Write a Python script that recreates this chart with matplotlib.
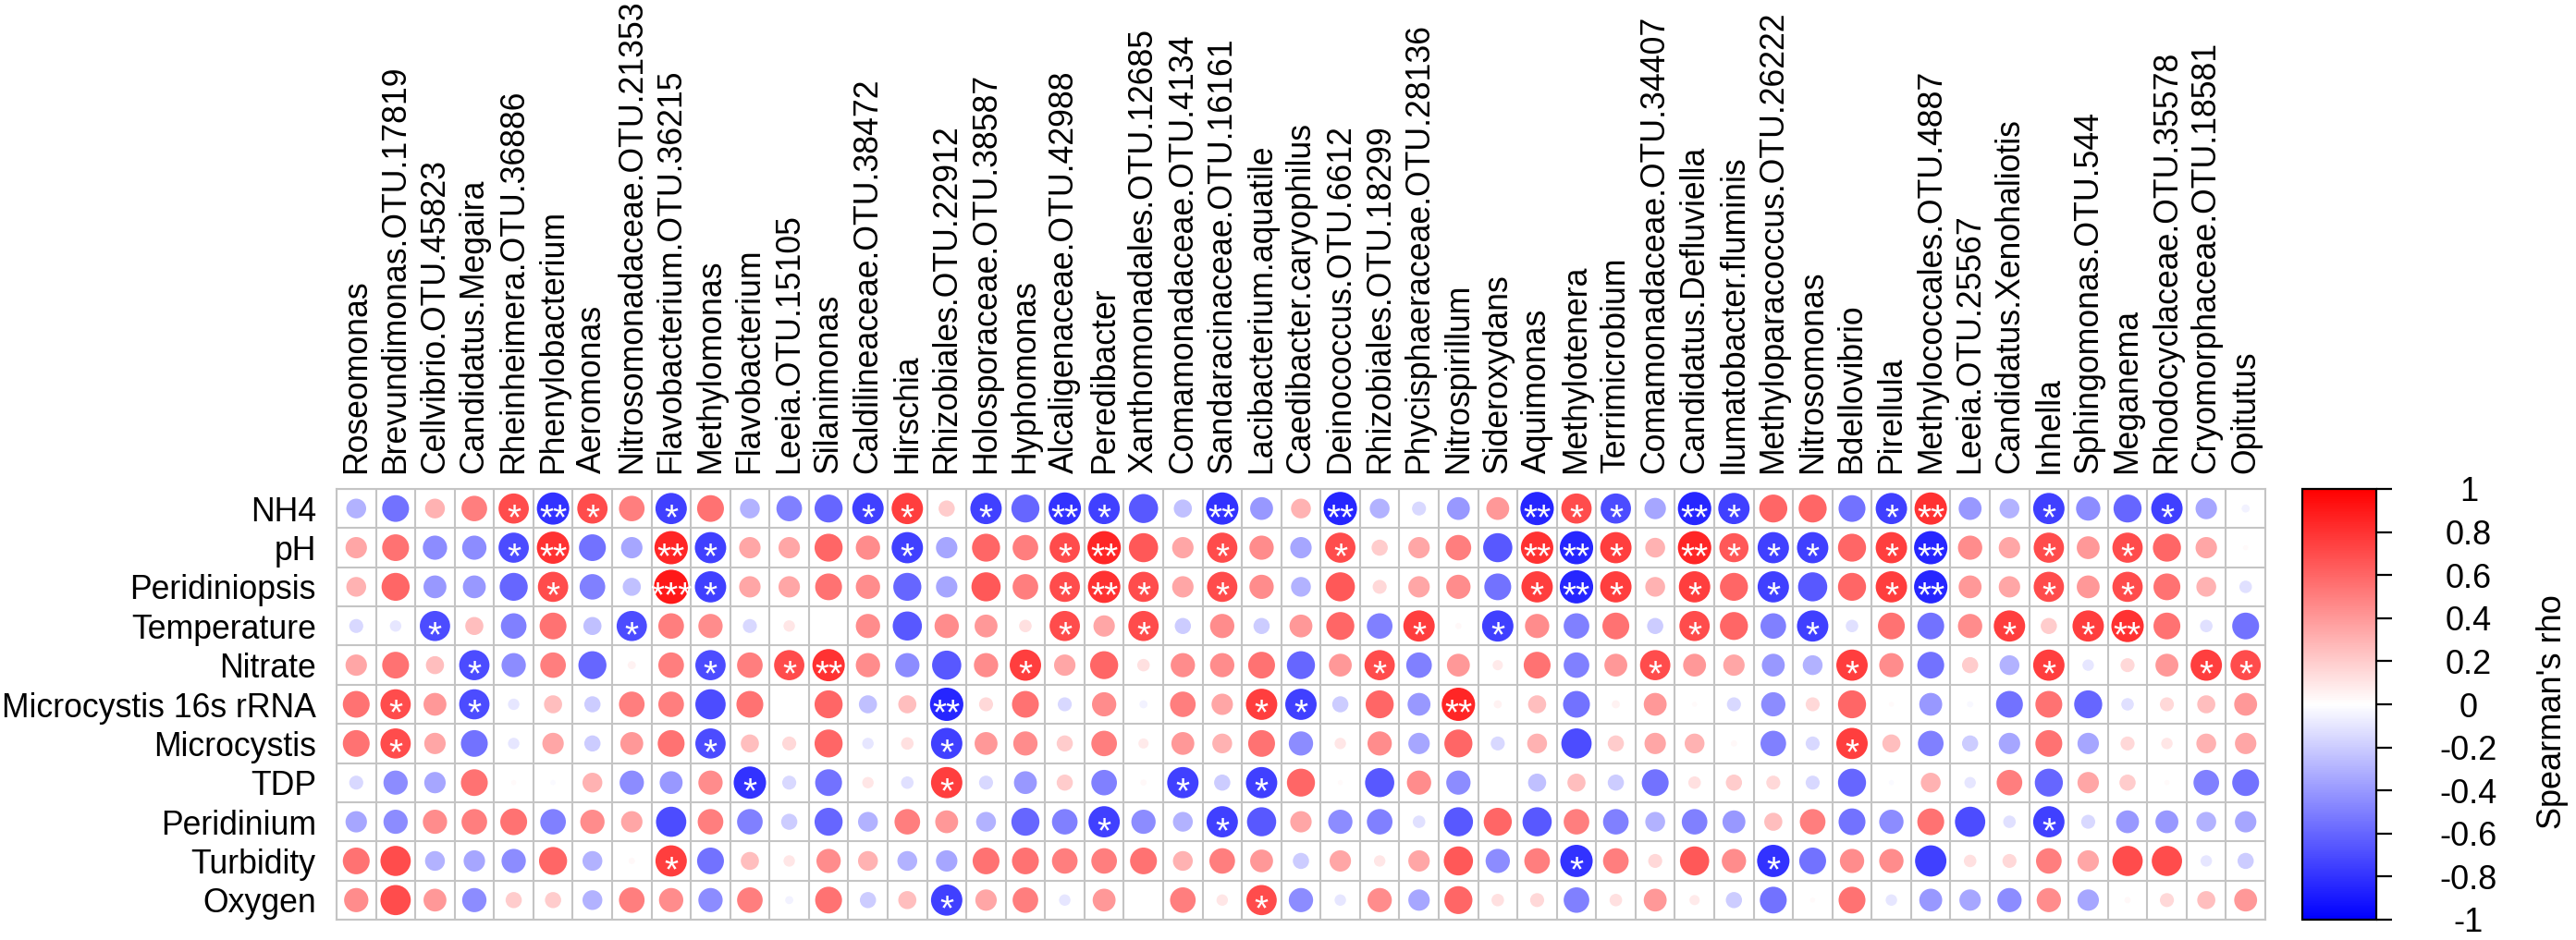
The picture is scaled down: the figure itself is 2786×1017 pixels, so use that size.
import numpy as np
import matplotlib
matplotlib.use("Agg")
import matplotlib.pyplot as plt
from matplotlib.collections import EllipseCollection
from matplotlib.colors import LinearSegmentedColormap, Normalize
from matplotlib.transforms import offset_copy

plt.rcParams['font.family'] = ['Liberation Sans', 'DejaVu Sans']

# taxa on the x axis
taxa = [
    "Roseomonas", "Brevundimonas.OTU.17819", "Cellvibrio.OTU.45823", "Candidatus.Megaira",
    "Rheinheimera.OTU.36886", "Phenylobacterium", "Aeromonas", "Nitrosomonadaceae.OTU.21353",
    "Flavobacterium.OTU.36215", "Methylomonas", "Flavobacterium", "Leeia.OTU.15105",
    "Silanimonas", "Caldilineaceae.OTU.38472", "Hirschia", "Rhizobiales.OTU.22912",
    "Holosporaceae.OTU.38587", "Hyphomonas", "Alcaligenaceae.OTU.42988", "Peredibacter",
    "Xanthomonadales.OTU.12685", "Comamonadaceae.OTU.4134", "Sandaracinaceae.OTU.16161",
    "Lacibacterium.aquatile", "Caedibacter.caryophilus", "Deinococcus.OTU.6612",
    "Rhizobiales.OTU.18299", "Phycisphaeraceae.OTU.28136", "Nitrospirillum", "Sideroxydans",
    "Aquimonas", "Methylotenera", "Terrimicrobium", "Comamonadaceae.OTU.34407",
    "Candidatus.Defluviella", "Ilumatobacter.fluminis", "Methyloparacoccus.OTU.26222",
    "Nitrosomonas", "Bdellovibrio", "Pirellula", "Methylococcales.OTU.4887", "Leeia.OTU.25567",
    "Candidatus.Xenohaliotis", "Inhella", "Sphingomonas.OTU.544", "Meganema",
    "Rhodocyclaceae.OTU.35578", "Cryomorphaceae.OTU.18581", "Opitutus",
]

# environmental variables on the y axis
variables = ["NH4", "pH", "Peridiniopsis", "Temperature", "Nitrate", "Microcystis 16s rRNA",
             "Microcystis", "TDP", "Peridinium", "Turbidity", "Oxygen"]

# Spearman's rho, one list per variable (estimated from the figure)
rho_nh4 = [-0.3, -0.55, 0.3, 0.5, 0.7, -0.8, 0.7, 0.5, -0.75, 0.55,
           -0.3, -0.5, -0.6, -0.75, 0.75, 0.2, -0.75, -0.6, -0.8, -0.75,
           -0.65, -0.25, -0.8, -0.4, 0.3, -0.85, -0.3, -0.15, -0.4, 0.4,
           -0.85, 0.7, -0.7, -0.35, -0.85, -0.75, 0.6, 0.6, -0.55, -0.75,
           0.8, -0.4, -0.3, -0.75, -0.45, -0.6, -0.75, -0.35, -0.05]
rho_ph = [0.35, 0.55, -0.45, -0.45, -0.7, 0.8, -0.55, -0.35, 0.85, -0.75,
          0.35, 0.35, 0.6, 0.45, -0.75, -0.35, 0.6, 0.5, 0.7, 0.85,
          0.65, 0.35, 0.7, 0.45, -0.35, 0.7, 0.2, 0.35, 0.5, -0.65,
          0.8, -0.85, 0.75, 0.3, 0.85, 0.65, -0.75, -0.75, 0.6, 0.75,
          -0.85, 0.45, 0.35, 0.7, 0.4, 0.7, 0.6, 0.35, 0.02]
rho_peridiniopsis = [0.3, 0.6, -0.4, -0.4, -0.6, 0.7, -0.5, -0.25, 0.9, -0.75,
                     0.35, 0.35, 0.55, 0.45, -0.6, -0.35, 0.65, 0.5, 0.7, 0.8,
                     0.7, 0.35, 0.7, 0.45, -0.3, 0.65, 0.15, 0.35, 0.45, -0.55,
                     0.75, -0.85, 0.75, 0.3, 0.75, 0.6, -0.75, -0.65, 0.6, 0.75,
                     -0.85, 0.4, 0.35, 0.7, 0.4, 0.7, 0.55, 0.3, -0.12]
rho_temperature = [-0.15, -0.1, -0.7, 0.25, -0.5, 0.55, -0.25, -0.7, 0.5, 0.45,
                   -0.15, 0.1, 0.0, 0.45, -0.65, 0.45, 0.4, 0.12, 0.7, 0.35,
                   0.7, -0.2, 0.45, -0.2, 0.4, 0.6, -0.5, 0.75, 0.03, -0.75,
                   0.45, -0.5, 0.55, -0.2, 0.7, 0.6, -0.5, -0.75, -0.12, 0.55,
                   -0.55, 0.45, 0.75, 0.2, 0.75, 0.8, 0.55, -0.12, -0.55]
rho_nitrate = [0.35, 0.55, 0.25, -0.7, -0.45, 0.5, -0.6, 0.05, 0.5, -0.7,
               0.5, 0.7, 0.8, 0.45, -0.45, -0.65, 0.45, 0.75, 0.35, 0.6,
               0.12, 0.45, 0.45, 0.55, -0.6, 0.4, 0.7, -0.5, 0.4, 0.08,
               0.55, -0.5, 0.4, 0.7, 0.4, 0.35, -0.4, -0.3, 0.75, 0.45,
               -0.55, 0.2, -0.3, 0.75, -0.1, 0.15, 0.4, 0.75, 0.7]
rho_mc16s = [0.55, 0.7, 0.4, -0.7, -0.1, 0.25, -0.2, 0.5, 0.5, -0.7,
             0.55, 0.0, 0.6, -0.25, 0.25, -0.85, 0.15, 0.55, -0.15, 0.45,
             -0.05, 0.5, 0.35, 0.75, -0.75, -0.2, 0.6, -0.4, 0.85, 0.05,
             0.25, -0.55, 0.05, 0.4, 0.02, -0.15, -0.45, 0.15, 0.6, 0.02,
             -0.4, -0.03, -0.55, 0.55, -0.6, -0.12, 0.15, 0.25, 0.4]
rho_microcystis = [0.55, 0.7, 0.35, -0.55, -0.1, 0.35, -0.2, 0.4, 0.55, -0.7,
                   0.25, 0.15, 0.6, -0.1, 0.12, -0.75, 0.4, 0.45, 0.2, 0.5,
                   0.08, 0.4, 0.3, 0.55, -0.45, 0.1, 0.45, -0.35, 0.6, -0.15,
                   0.3, -0.7, 0.2, 0.35, 0.3, 0.03, -0.5, -0.15, 0.75, 0.25,
                   -0.5, -0.2, -0.35, 0.55, -0.35, 0.15, 0.1, 0.3, 0.35]
rho_tdp = [-0.15, -0.45, -0.35, 0.55, 0.02, -0.02, 0.3, -0.45, -0.4, 0.45,
           -0.8, -0.15, -0.55, 0.1, -0.12, 0.75, -0.15, -0.4, 0.2, -0.5,
           0.03, -0.75, -0.2, -0.75, 0.6, 0.02, -0.65, 0.45, -0.45, 0.0,
           -0.25, 0.25, -0.2, -0.55, 0.12, 0.2, 0.15, -0.15, -0.6, -0.02,
           0.3, -0.1, 0.5, -0.6, 0.35, 0.2, 0.02, -0.5, -0.55]
rho_peridinium = [-0.35, -0.45, 0.45, 0.5, 0.55, -0.5, 0.45, 0.35, -0.7, 0.5,
                  -0.5, -0.2, -0.6, -0.3, 0.5, 0.4, -0.3, -0.6, -0.5, -0.75,
                  -0.45, -0.3, -0.75, -0.65, 0.35, -0.45, -0.5, -0.12, -0.65, 0.6,
                  -0.65, 0.5, -0.5, -0.3, -0.5, -0.4, 0.25, 0.5, -0.55, -0.45,
                  0.55, -0.7, -0.12, -0.75, -0.15, -0.4, -0.4, -0.3, -0.35]
rho_turbidity = [0.55, 0.7, -0.3, -0.35, -0.45, 0.6, -0.3, 0.03, 0.75, -0.55,
                 0.25, 0.1, 0.45, 0.3, -0.3, -0.35, 0.55, 0.55, 0.5, 0.5,
                 0.55, 0.3, 0.5, 0.4, -0.2, 0.35, 0.1, 0.35, 0.65, -0.45,
                 0.5, -0.8, 0.5, 0.15, 0.65, 0.45, -0.8, -0.55, 0.45, 0.45,
                 -0.75, 0.12, 0.15, 0.5, 0.35, 0.7, 0.7, -0.1, -0.2]
rho_oxygen = [0.45, 0.7, 0.4, -0.45, 0.2, 0.2, -0.3, 0.5, 0.45, -0.45,
              0.5, -0.05, 0.55, -0.2, 0.25, -0.75, 0.35, 0.5, -0.1, 0.4,
              0.0, 0.5, 0.1, 0.7, -0.45, -0.1, 0.45, -0.35, 0.6, 0.12,
              0.15, -0.5, 0.12, 0.4, 0.08, -0.2, -0.55, 0.02, 0.55, -0.1,
              -0.4, -0.35, -0.45, 0.45, -0.35, 0.03, 0.15, 0.25, 0.4]

# significance stars per variable: {taxon index: number of stars}
stars_nh4 = {4: 1, 5: 2, 6: 1, 8: 1, 13: 1, 14: 1, 16: 1, 18: 2, 19: 1, 22: 2, 25: 2,
             30: 2, 31: 1, 32: 1, 34: 2, 35: 1, 39: 1, 40: 2, 43: 1, 46: 1}
stars_ph = {4: 1, 5: 2, 8: 2, 9: 1, 14: 1, 18: 1, 19: 2, 22: 1, 25: 1, 30: 2, 31: 2,
            32: 1, 34: 2, 35: 1, 36: 1, 37: 1, 39: 1, 40: 2, 43: 1, 45: 1}
stars_peridiniopsis = {5: 1, 8: 3, 9: 1, 18: 1, 19: 2, 20: 1, 22: 1, 30: 1, 31: 2, 32: 1,
                       34: 1, 36: 1, 39: 1, 40: 2, 43: 1, 45: 1}
stars_temperature = {2: 1, 7: 1, 18: 1, 20: 1, 27: 1, 29: 1, 34: 1, 37: 1, 42: 1, 44: 1, 45: 2}
stars_nitrate = {3: 1, 9: 1, 11: 1, 12: 2, 17: 1, 26: 1, 33: 1, 38: 1, 43: 1, 47: 1, 48: 1}
stars_mc16s = {1: 1, 3: 1, 15: 2, 23: 1, 24: 1, 28: 2}
stars_microcystis = {1: 1, 9: 1, 15: 1, 38: 1}
stars_tdp = {10: 1, 15: 1, 21: 1, 23: 1}
stars_peridinium = {19: 1, 22: 1, 43: 1}
stars_turbidity = {8: 1, 31: 1, 36: 1}
stars_oxygen = {15: 1, 23: 1}

cbar_ticks = [1, 0.8, 0.6, 0.4, 0.2, 0, -0.2, -0.4, -0.6, -0.8, -1]
cbar_labels = ["1", "0.8", "0.6", "0.4", "0.2", "0", "-0.2", "-0.4", "-0.6", "-0.8", "-1"]

rho = np.array([rho_nh4, rho_ph, rho_peridiniopsis, rho_temperature, rho_nitrate,
                rho_mc16s, rho_microcystis, rho_tdp, rho_peridinium, rho_turbidity,
                rho_oxygen])
stars = [stars_nh4, stars_ph, stars_peridiniopsis, stars_temperature, stars_nitrate,
         stars_mc16s, stars_microcystis, stars_tdp, stars_peridinium, stars_turbidity,
         stars_oxygen]

n_rows, n_cols = rho.shape
cmap = LinearSegmentedColormap.from_list("bwr_corr", ["#0000FF", "#FFFFFF", "#FF0000"])
norm = Normalize(vmin=-1, vmax=1)

W, H = 2786, 1017
fig = plt.figure(figsize=(W / 100, H / 100), dpi=100)
ax = fig.add_axes([364 / W, 1 - 995 / H, 2086 / W, 466 / H])

# grid
grid_col = "#C4C4C4"
ax.hlines(np.arange(n_rows + 1), 0, n_cols, color=grid_col, lw=1.5, zorder=1)
ax.vlines(np.arange(n_cols + 1), 0, n_rows, color=grid_col, lw=1.5, zorder=1)

# circles: area follows |rho|
cols_idx, rows_idx = np.meshgrid(np.arange(n_cols), np.arange(n_rows))
xy = np.column_stack([cols_idx.ravel() + 0.5, rows_idx.ravel() + 0.5])
diam = 0.92 * np.sqrt(np.abs(rho.ravel()))
circles = EllipseCollection(diam, diam, np.zeros_like(diam), units="xy",
                            offsets=xy, offset_transform=ax.transData,
                            cmap=cmap, norm=norm, zorder=2, linewidths=0)
circles.set_array(rho.ravel())
ax.add_collection(circles)

# significance marks
star_fs = 28
star_tr = offset_copy(ax.transData, fig=fig, y=-0.56 * star_fs, units="points")
for i, row_stars in enumerate(stars):
    for j, n in row_stars.items():
        ax.text(j + 0.5, i + 0.5, "*" * n, color="white", fontsize=star_fs,
                ha="center", va="baseline", transform=star_tr, zorder=3)

ax.set_xlim(0, n_cols)
ax.set_ylim(n_rows, 0)
ax.set_xticks(np.arange(n_cols) + 0.5)
ax.set_xticklabels(taxa, rotation=90, fontsize=25.7)
ax.set_yticks(np.arange(n_rows) + 0.5)
ax.set_yticklabels(variables, fontsize=25.7)
ax.xaxis.tick_top()
ax.tick_params(axis="x", length=0, pad=12)
ax.tick_params(axis="y", length=0, pad=16)
for s in ax.spines.values():
    s.set_color(grid_col)
    s.set_linewidth(1.5)

# colour bar
cax = fig.add_axes([2490 / W, 1 - 995 / H, 80 / W, 466 / H])
sm = plt.cm.ScalarMappable(cmap=cmap, norm=norm)
cb = fig.colorbar(sm, cax=cax, ticks=cbar_ticks)
cb.set_ticklabels(cbar_labels)
cb.outline.set_linewidth(1.6)
cb.outline.set_edgecolor("black")
cax.tick_params(axis="y", length=12, width=1.6, pad=60, labelsize=26)
for lbl in cax.get_yticklabels():
    lbl.set_horizontalalignment("center")
fig.text(2760 / W, 1 - 770 / H, "Spearman's rho", rotation=90, fontsize=26,
         ha="center", va="center")

fig.savefig("out.png", dpi=100)
